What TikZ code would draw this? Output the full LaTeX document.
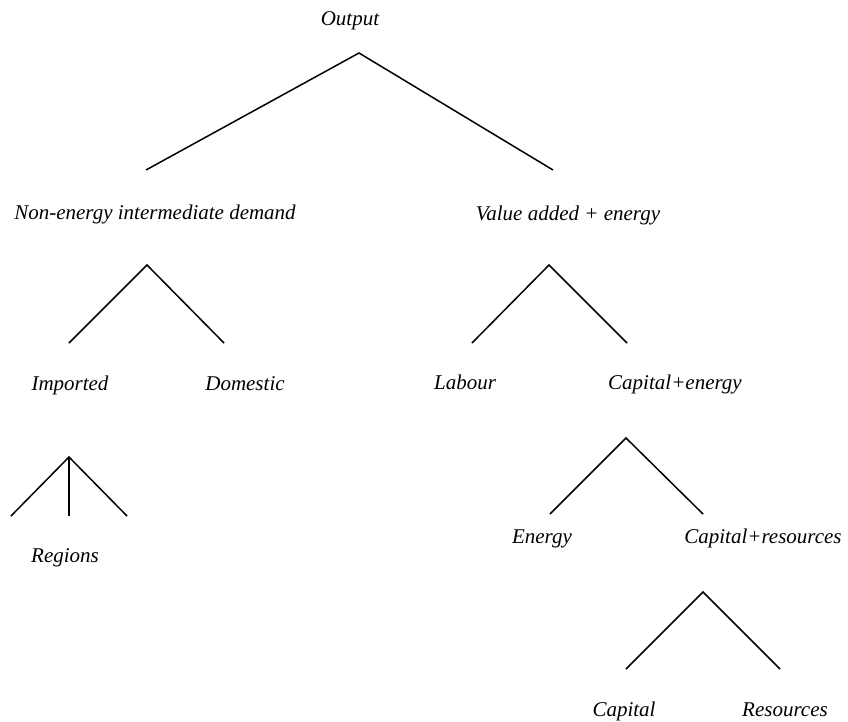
\documentclass[tikz,border=0pt]{standalone}
\usepackage{fontspec}
\setmainfont{Liberation Serif}
\tikzset{
  nestlabel/.style={font=\fontsize{21}{25}\selectfont\itshape,
    inner sep=0pt, anchor=base},
  nestline/.style={line width=1.5pt, color=black, line join=miter},
}
\begin{document}
\begin{tikzpicture}[x=1pt, y=-1pt]
  \useasboundingbox (0,0) rectangle (848,721);
  % labels, one per level of the nest
  \node[nestlabel] (output) at (350,25) {Output};
  \node[nestlabel] (nonenergy) at (155,219) {Non-energy intermediate demand};
  \node[nestlabel] (vaen) at (568,220) {Value added + energy};
  \node[nestlabel] (imported) at (70,390) {Imported};
  \node[nestlabel] (domestic) at (245,390) {Domestic};
  \node[nestlabel] (labour) at (465,389) {Labour};
  \node[nestlabel] (capen) at (675,389) {Capital+energy};
  \node[nestlabel] (regions) at (65,562) {Regions};
  \node[nestlabel] (energy) at (542,543) {Energy};
  \node[nestlabel] (capres) at (763,543) {Capital+resources};
  \node[nestlabel] (capital) at (624,716) {Capital};
  \node[nestlabel] (resources) at (785,716) {Resources};
  % split points and feet of the branches
  \coordinate (split-output) at (359,53);
  \coordinate (foot-nonenergy) at (146,170);
  \coordinate (foot-vaen) at (553,170);
  \coordinate (split-nonenergy) at (147,265);
  \coordinate (foot-imported) at (69,343);
  \coordinate (foot-domestic) at (224,343);
  \coordinate (split-vaen) at (549,265);
  \coordinate (foot-labour) at (472,343);
  \coordinate (foot-capen) at (627,343);
  \coordinate (split-imported) at (69,457);
  \coordinate (foot-regionA) at (11,516);
  \coordinate (foot-regionB) at (69,516);
  \coordinate (foot-regionC) at (127,516);
  \coordinate (split-capen) at (626,438);
  \coordinate (foot-energy) at (550,514);
  \coordinate (foot-capres) at (703,514);
  \coordinate (split-capres) at (703,592);
  \coordinate (foot-capital) at (626,669);
  \coordinate (foot-resources) at (780,669);
  % branches
  \draw[nestline] (foot-nonenergy) -- (split-output) -- (foot-vaen);
  \draw[nestline] (foot-imported) -- (split-nonenergy) -- (foot-domestic);
  \draw[nestline] (foot-labour) -- (split-vaen) -- (foot-capen);
  \draw[nestline] (foot-regionA) -- (split-imported) -- (foot-regionC);
  \draw[nestline] (split-imported) -- (foot-regionB);
  \draw[nestline] (foot-energy) -- (split-capen) -- (foot-capres);
  \draw[nestline] (foot-capital) -- (split-capres) -- (foot-resources);
\end{tikzpicture}
\end{document}
